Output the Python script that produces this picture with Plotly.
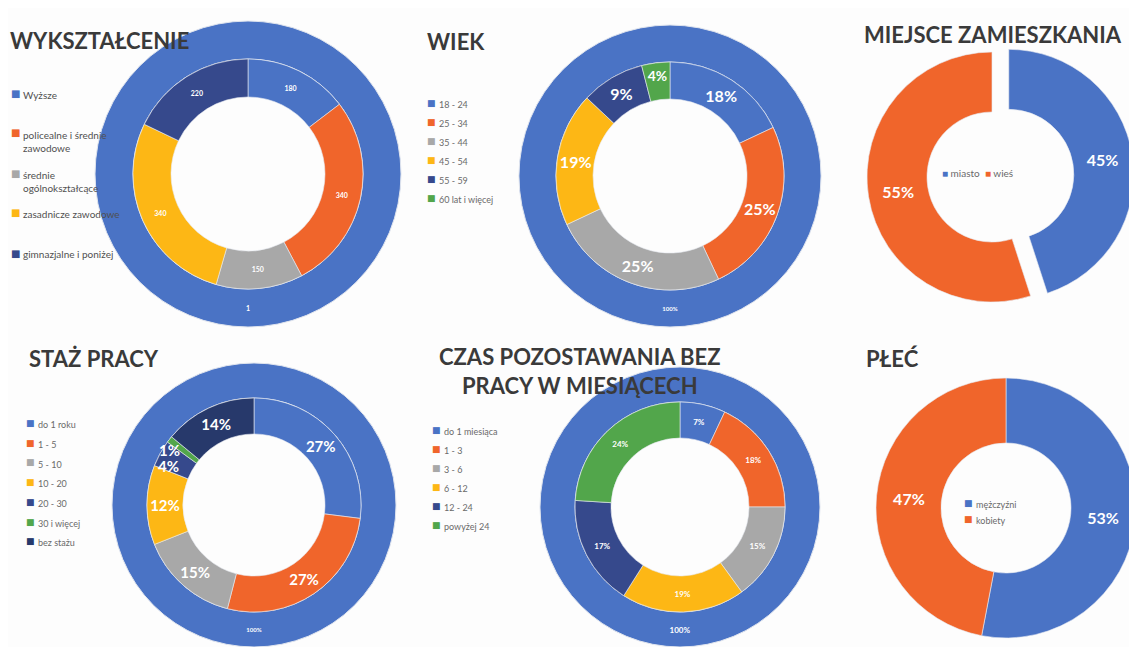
import math
import plotly.graph_objects as go

# page body has an 8px default margin: the figure is sized and positioned to compensate
OFF = 8
W, H = 1137 - OFF, 647 - OFF

# ---------------- data ----------------
edu_labels = ["Wyższe", "policealne i średnie<br>zawodowe", "średnie<br>ogólnokształcące",
              "zasadnicze zawodowe", "gimnazjalne i poniżej"]
edu_values = [180, 340, 150, 340, 220]
edu_ring = [1]

age_labels = ["18 - 24", "25 - 34", "35 - 44", "45 - 54", "55 - 59", "60 lat i więcej"]
age_values = [18, 25, 25, 19, 9, 4]

place_labels = ["miasto", "wieś"]
place_values = [45, 55]

tenure_labels = ["do 1 roku", "1 - 5", "5 - 10", "10 - 20", "20 - 30", "30 i więcej", "bez stażu"]
tenure_values = [27, 27, 15, 12, 4, 1, 14]

unemp_labels = ["do 1 miesiąca", "1 - 3", "3 - 6", "6 - 12", "12 - 24", "powyżej 24"]
unemp_values = [7, 18, 15, 19, 17, 24]

sex_labels = ["mężczyźni", "kobiety"]
sex_values = [53, 47]

ring_values = [100]

titles = ["WYKSZTAŁCENIE", "WIEK", "MIEJSCE ZAMIESZKANIA", "STAŻ PRACY",
          "CZAS POZOSTAWANIA BEZ<br>PRACY W MIESIĄCECH", "PŁEĆ"]

# ---------------- style ----------------
BLUE = "#4A73C5"
ORANGE = "#F0652B"
GRAY = "#A8A8A8"
YELLOW = "#FDB715"
NAVY = "#36498C"
GREEN = "#52A64B"
DNAVY = "#27396B"
PAL6 = [BLUE, ORANGE, GRAY, YELLOW, NAVY, GREEN]
PAL7 = PAL6 + [DNAVY]
FONT = "Lato"
TXT = "#3a3a3a"
LEG = "#6a6a6a"


def px(x):
    return (x - OFF) / W


def py(y):
    return 1 - (y - OFF) / H


def dom(cx, cy, r):
    return dict(x=[max(0.0, px(cx - r)), min(1.0, px(cx + r))],
                y=[max(0.0, py(cy + r)), min(1.0, py(cy - r))])


fig = go.Figure()


def ring(cx, cy, r_out, r_in, values, template, size):
    fig.add_trace(go.Pie(
        values=values, labels=["total"], domain=dom(cx, cy, r_out), hole=r_in / r_out,
        sort=False, direction="clockwise", rotation=0,
        marker=dict(colors=[BLUE], line=dict(color="#dfe4ee", width=1)),
        textposition="inside", insidetextorientation="horizontal", texttemplate=template,
        textfont=dict(family=FONT, size=size, color="white", weight="bold"),
        showlegend=False, hoverinfo="skip"))


def donut(cx, cy, r_out, r_in, labels, values, colors, template, size, pull=None):
    fig.add_trace(go.Pie(
        values=values, labels=labels, domain=dom(cx, cy, r_out * (1 + (max(pull) if pull else 0))),
        hole=r_in / r_out, sort=False, direction="clockwise", rotation=0, pull=pull,
        marker=dict(colors=colors, line=dict(color="#e8ebf2", width=0.6)),
        textposition="inside", insidetextorientation="horizontal", texttemplate=template,
        textfont=dict(family=FONT, size=size, color="white", weight="bold"),
        showlegend=False, hoverinfo="skip"))


ann = []

# 1. WYKSZTAŁCENIE
ring(248, 174, 153, 115, edu_ring, "%{value}", 7)
donut(248, 174, 115, 77, edu_labels, edu_values, PAL6[:4] + [NAVY], "%{value}", 7)
# 2. WIEK
ring(670, 176, 151, 114, ring_values, "%{percent:.0%}", 6)
donut(670, 176, 114, 77, age_labels, age_values, PAL6, "%{value}%", 16)
# 3. MIEJSCE ZAMIESZKANIA
donut(992, 177, 125, 65, place_labels, place_values, [BLUE, ORANGE], "%{value}%", 16, pull=[0.136, 0])
# 4. STAŻ PRACY
ring(254, 505, 142, 107, ring_values, "%{percent:.0%}", 6)
SMALL = 5
tenure_tpl = ["%{value}%" if v >= SMALL else "" for v in tenure_values]
donut(254, 505, 107, 71, tenure_labels, tenure_values, PAL7, tenure_tpl, 15)
# labels of very thin slices (drawn unscaled, as in the original), placed from the data
cum = 0
tot = sum(tenure_values)
k = 0
for v in tenure_values:
    if v < SMALL:
        ang = 2 * math.pi * (cum + v / 2) / tot
        rr = (107 + 71) / 2 + 8 * k
        ann.append(dict(text="%d%%" % v, x=px(254 + rr * math.sin(ang) - 8), y=py(505 - rr * math.cos(ang) + 4),
                        xref="paper", yref="paper", showarrow=False, xanchor="center", yanchor="middle",
                        font=dict(family=FONT, size=15, color="white", weight="bold")))
        k += 1
    cum += v
# 5. CZAS POZOSTAWANIA
ring(680, 507, 140, 105, ring_values, "%{percent:.0%}", 8)
donut(680, 507, 105, 69, unemp_labels, unemp_values, PAL6, "%{value}%", 8)
# 6. PŁEĆ
donut(1006, 508, 130, 65, sex_labels, sex_values, [BLUE, ORANGE], "%{value}%", 16)


def title(text, x, y, anchor="left"):
    ann.append(dict(text=text, x=px(x), y=py(y), xref="paper", yref="paper", xanchor=anchor,
                    yanchor="middle", showarrow=False, align="center",
                    font=dict(family=FONT, size=22, color=TXT, weight="bold")))


title(titles[0], 8, 40)
title(titles[1], 425, 42)
title(titles[2], 862, 35)
title(titles[3], 27, 358)
title(titles[4], 580, 371, "center")
title(titles[5], 864, 358)


def legend(labels, colors, xs, ys, size=9, color=LEG):
    for lab, c, y in zip(labels, colors, ys):
        ann.append(dict(text="■", x=px(xs), y=py(y), xref="paper", yref="paper", xanchor="center",
                        yanchor="middle", showarrow=False,
                        font=dict(family="DejaVu Sans", size=size, color=c)))
        ann.append(dict(text=lab, x=px(xs + 6), y=py(y - size * 0.65), xref="paper", yref="paper",
                        xanchor="left", yanchor="top", showarrow=False, align="left",
                        font=dict(family=FONT, size=size, color=color)))


legend(edu_labels, PAL6[:4] + [NAVY], 15, [93, 133, 174, 213, 253], size=10, color="#505050")
legend(age_labels, PAL6, 431, [103 + 19 * i for i in range(6)])
legend(tenure_labels, PAL7, 30, [423 + 19.7 * i for i in range(7)])
legend(unemp_labels, PAL6, 436, [430 + 19 * i for i in range(6)])
legend(sex_labels, [BLUE, ORANGE], 968, [503, 519])
ann.append(dict(text="<span style='color:%s'>■</span> %s  <span style='color:%s'>■</span> %s"
                % (BLUE, place_labels[0], ORANGE, place_labels[1]),
                x=px(977), y=py(173), xref="paper", yref="paper", xanchor="center", yanchor="middle",
                showarrow=False, font=dict(family=FONT, size=10, color=LEG)))

fig.update_layout(width=W, height=H, margin=dict(l=0, r=0, t=0, b=0), autosize=False,
                  paper_bgcolor="#fdfdfd", plot_bgcolor="#fdfdfd", annotations=ann)

fig.write_html("out.html")
